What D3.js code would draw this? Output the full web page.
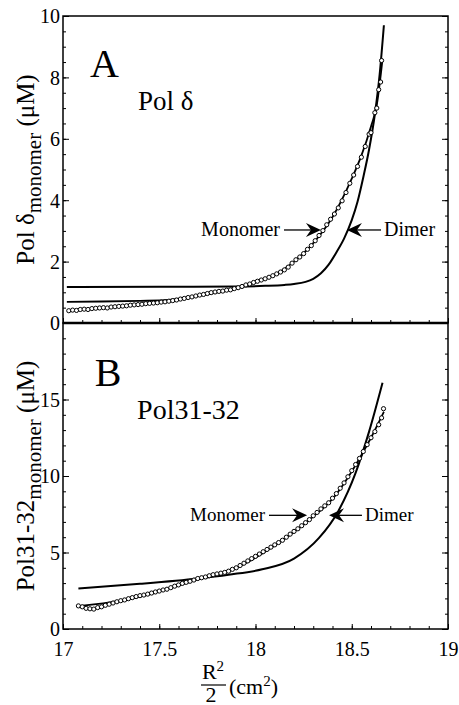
<!DOCTYPE html>
<html>
<head>
<meta charset="utf-8">
<script src="https://cdn.jsdelivr.net/npm/d3@7"></script>
<style>
  body { margin: 0; background: #fff; }
  .tick line { stroke: #000; stroke-width: 1; }
</style>
</head>
<body>
<svg id="chart" width="459" height="705"></svg>
<script>
// panel A : Pol delta, [r^2/2, conc]
var polDeltaData = [
  [17.03,0.40],[17.05,0.42],[17.07,0.41],[17.09,0.44],[17.11,0.45],[17.13,0.44],[17.15,0.47],
  [17.17,0.48],[17.19,0.49],[17.21,0.50],[17.23,0.49],[17.25,0.52],[17.27,0.53],[17.29,0.54],
  [17.31,0.55],[17.33,0.56],[17.35,0.58],[17.37,0.59],[17.39,0.60],[17.41,0.61],[17.43,0.63],
  [17.45,0.64],[17.47,0.65],[17.49,0.66],[17.51,0.68],[17.53,0.69],[17.55,0.71],[17.57,0.73],
  [17.59,0.75],[17.61,0.78],[17.63,0.80],[17.65,0.83],[17.67,0.85],[17.69,0.88],[17.71,0.91],
  [17.73,0.93],[17.75,0.96],[17.77,0.99],[17.79,1.01],[17.81,1.03],[17.83,1.04],[17.85,1.07],
  [17.87,1.08],[17.89,1.12],[17.91,1.15],[17.93,1.19],[17.95,1.24],[17.97,1.27],[17.99,1.32],
  [18.01,1.36],[18.03,1.40],[18.05,1.44],[18.07,1.49],[18.09,1.54],[18.11,1.60],[18.13,1.66],
  [18.15,1.73],[18.17,1.82],[18.19,1.95],[18.21,2.06],[18.23,2.15],[18.25,2.26],[18.27,2.40],
  [18.29,2.52],[18.31,2.68],[18.33,2.85],[18.35,3.01],[18.37,3.20],[18.39,3.38],[18.41,3.55],
  [18.43,3.75],[18.45,3.98],[18.47,4.25],[18.49,4.55],[18.51,4.82],[18.53,5.10],[18.55,5.40],
  [18.57,5.75],[18.59,6.15],[18.60,6.20],[18.62,6.85],[18.63,7.00],[18.64,7.60],[18.65,7.85],
  [18.655,8.55]
];
var polDeltaMonomer = [
  [17.02,0.69],[17.2,0.70],[17.4,0.72],[17.55,0.75],[17.7,0.88],[17.85,1.06],[18.0,1.34],
  [18.1,1.57],[18.2,2.0],[18.3,2.6],[18.4,3.45],[18.5,4.7],[18.55,5.45],[18.6,6.4],
  [18.63,7.1],[18.66,8.6]
];
var polDeltaDimer = [
  [17.02,1.17],[17.5,1.18],[17.9,1.19],[18.05,1.21],[18.15,1.24],[18.2,1.27],[18.26,1.34],
  [18.3,1.44],[18.34,1.62],[18.38,1.90],[18.42,2.3],[18.46,2.75],[18.5,3.35],[18.53,3.95],
  [18.56,4.75],[18.59,5.65],[18.62,6.8],[18.645,8.1],[18.667,9.7]
];

// panel B : Pol31-32
var pol3132Data = [
  [17.08,1.51],[17.10,1.45],[17.12,1.35],[17.14,1.32],[17.16,1.30],[17.18,1.40],[17.20,1.45],
  [17.22,1.55],[17.24,1.62],[17.26,1.70],[17.28,1.78],[17.30,1.85],[17.32,1.90],[17.34,1.98],
  [17.36,2.05],[17.38,2.12],[17.40,2.18],[17.42,2.22],[17.44,2.28],[17.46,2.35],[17.48,2.42],
  [17.50,2.48],[17.52,2.55],[17.54,2.60],[17.56,2.70],[17.58,2.80],[17.60,2.88],[17.62,2.98],
  [17.64,3.05],[17.66,3.12],[17.68,3.20],[17.70,3.30],[17.72,3.35],[17.74,3.40],[17.76,3.48],
  [17.78,3.55],[17.80,3.60],[17.82,3.65],[17.84,3.70],[17.86,3.78],[17.88,3.90],[17.90,4.00],
  [17.92,4.15],[17.94,4.30],[17.96,4.45],[17.98,4.60],[18.00,4.75],[18.02,4.90],[18.04,5.05],
  [18.06,5.20],[18.08,5.35],[18.10,5.50],[18.12,5.65],[18.14,5.80],[18.16,6.00],[18.18,6.20],
  [18.20,6.38],[18.22,6.55],[18.24,6.75],[18.26,6.95],[18.28,7.15],[18.30,7.40],[18.32,7.62],
  [18.34,7.85],[18.36,8.05],[18.38,8.25],[18.40,8.55],[18.42,8.85],[18.44,9.20],[18.46,9.55],
  [18.48,9.95],[18.50,10.35],[18.52,10.75],[18.54,11.15],[18.56,11.60],[18.58,12.05],
  [18.60,12.50],[18.62,12.90],[18.64,13.35],[18.655,13.80],[18.665,14.40]
];
var pol3132Monomer = [
  [17.08,1.5],[17.3,1.85],[17.5,2.45],[17.7,3.25],[17.9,4.0],[18.1,5.45],[18.3,7.35],
  [18.4,8.5],[18.5,10.3],[18.6,12.5],[18.667,14.2]
];
var pol3132Dimer = [
  [17.08,2.65],[17.4,2.95],[17.7,3.3],[17.86,3.55],[18.035,3.9],[18.2,4.6],[18.33,5.95],
  [18.43,7.7],[18.52,10.2],[18.59,12.9],[18.66,16.1]
];

var xTicks = [17, 17.5, 18, 18.5, 19];
var yTicksA = [0, 2, 4, 6, 8, 10];
var yTicksB = [0, 5, 10, 15];

var serif = "'Liberation Serif', 'DejaVu Serif', 'Times New Roman', Times, serif";
var svg = d3.select('#chart');
var left = 63, right = 448;

var x = d3.scaleLinear().domain([17, 19]).range([left, right]);
var yA = d3.scaleLinear().domain([0, 10]).range([323, 16]);
var yB = d3.scaleLinear().domain([0, 20]).range([629, 323]);

function txt(sel){
  return sel.attr('font-family', serif).attr('fill', '#000');
}

function drawPanel(opts){
  var y = opts.y;
  var g = svg.append('g');
  var top = y.range()[1], bottom = y.range()[0];

  // frame
  g.append('rect')
    .attr('x', left).attr('y', top)
    .attr('width', right - left).attr('height', bottom - top)
    .attr('fill', 'none').attr('stroke', '#000').attr('stroke-width', 1.5);

  // minor + major y ticks, both sides
  var minor = d3.range(0, y.domain()[1] + 1e-9, opts.minorStep);
  g.append('g').attr('transform', 'translate(' + left + ',0)')
    .call(d3.axisLeft(y).tickValues(minor).tickSize(-3).tickFormat(''))
    .call(function(s){ s.select('.domain').remove(); });
  g.append('g').attr('transform', 'translate(' + right + ',0)')
    .call(d3.axisRight(y).tickValues(minor).tickSize(-3).tickFormat(''))
    .call(function(s){ s.select('.domain').remove(); });
  g.append('g').attr('transform', 'translate(' + right + ',0)')
    .call(d3.axisRight(y).tickValues(opts.yTicks).tickSize(-6).tickFormat(''))
    .call(function(s){ s.select('.domain').remove(); });
  var ya = g.append('g').attr('transform', 'translate(' + left + ',0)')
    .call(d3.axisLeft(y).tickValues(opts.yTicks).tickSize(-6).tickFormat(d3.format('d')));
  ya.select('.domain').remove();
  ya.attr('font-family', serif).attr('font-size', 20);
  txt(ya.selectAll('text')).attr('dy', '0.34em').attr('x', -3);

  // x ticks pointing up from the panel bottom
  g.append('g').attr('transform', 'translate(0,' + bottom + ')')
    .call(d3.axisBottom(x).tickValues(d3.range(17, 19.001, 0.1)).tickSize(-3).tickFormat(''))
    .call(function(s){ s.select('.domain').remove(); });
  var xa = g.append('g').attr('transform', 'translate(0,' + bottom + ')')
    .call(d3.axisBottom(x).tickValues(xTicks).tickSize(-5).tickFormat(opts.showX ? d3.format('') : ''));
  xa.select('.domain').remove();
  xa.attr('font-family', serif).attr('font-size', 20);
  txt(xa.selectAll('text')).attr('y', 27).attr('dy', 0);

  var line = d3.line()
    .x(function(d){ return x(d[0]); })
    .y(function(d){ return y(d[1]); })
    .curve(d3.curveMonotoneX);

  g.append('path').datum(opts.dimer).attr('d', line)
    .attr('fill', 'none').attr('stroke', '#000').attr('stroke-width', 2);
  g.append('path').datum(opts.monomer).attr('d', line)
    .attr('fill', 'none').attr('stroke', '#000').attr('stroke-width', 1.8);

  g.selectAll('circle.pt').data(opts.data).enter().append('circle')
    .attr('class', 'pt')
    .attr('cx', function(d){ return x(d[0]); })
    .attr('cy', function(d){ return y(d[1]); })
    .attr('r', 2.1)
    .attr('fill', '#fff').attr('stroke', '#000').attr('stroke-width', 1);

  // panel letter and protein name
  txt(g.append('text')).attr('x', x(opts.letterAt[0])).attr('y', y(opts.letterAt[1]))
    .attr('font-size', 40).text(opts.letter);
  txt(g.append('text')).attr('x', x(opts.nameAt[0])).attr('y', y(opts.nameAt[1]))
    .attr('font-size', opts.nameSize).text(opts.name);

  // arrows
  var ay = y(opts.arrowY);
  arrow(g, x(opts.monoArrow[0]), x(opts.monoArrow[1]), ay);
  arrow(g, x(opts.dimArrow[0]), x(opts.dimArrow[1]), ay);
  txt(g.append('text')).attr('x', x(opts.monoArrow[0]) - 4).attr('y', ay + 6)
    .attr('text-anchor', 'end').attr('font-size', opts.noteSize).text('Monomer');
  txt(g.append('text')).attr('x', x(opts.dimArrow[0]) + 3).attr('y', ay + 6)
    .attr('font-size', opts.noteSize).text('Dimer');

  // y axis title
  var t = txt(g.append('text'))
    .attr('transform', 'translate(34,' + ((top + bottom) / 2) + ') rotate(-90)')
    .attr('text-anchor', 'middle').attr('font-size', 25);
  t.append('tspan').text(opts.yName);
  t.append('tspan').attr('dy', 7).attr('font-size', 21).text('monomer');
  t.append('tspan').attr('dy', -7).text(' (\u03bcM)');
}

function arrow(g, x0, x1, yy){
  var dir = x1 > x0 ? 1 : -1;
  g.append('line').attr('x1', x0).attr('x2', x1 - dir * 8).attr('y1', yy).attr('y2', yy)
    .attr('stroke', '#000').attr('stroke-width', 1.3);
  g.append('path')
    .attr('d', 'M' + x1 + ',' + yy +
      'L' + (x1 - dir * 15) + ',' + (yy - 7) +
      'L' + (x1 - dir * 10) + ',' + yy +
      'L' + (x1 - dir * 15) + ',' + (yy + 7) + 'Z')
    .attr('fill', '#000');
}

drawPanel({
  y: yA, yTicks: yTicksA, minorStep: 0.5, showX: false,
  data: polDeltaData, monomer: polDeltaMonomer, dimer: polDeltaDimer,
  letter: 'A', letterAt: [17.14, 8.0],
  name: 'Pol \u03b4', nameAt: [17.39, 6.95], nameSize: 27,
  arrowY: 3.03, monoArrow: [18.148, 18.34], dimArrow: [18.652, 18.475], noteSize: 20,
  yName: 'Pol \u03b4'
});

drawPanel({
  y: yB, yTicks: yTicksB, minorStep: 1, showX: true,
  data: pol3132Data, monomer: pol3132Monomer, dimer: pol3132Dimer,
  letter: 'B', letterAt: [17.165, 15.9],
  name: 'Pol31-32', nameAt: [17.385, 13.75], nameSize: 28,
  arrowY: 7.43, monoArrow: [18.07, 18.268], dimArrow: [18.553, 18.382], noteSize: 19,
  yName: 'Pol31-32'
});

// middle divider is drawn heavier
svg.append('line').attr('x1', left).attr('x2', right).attr('y1', yA(0)).attr('y2', yA(0))
  .attr('stroke', '#000').attr('stroke-width', 2.4);

// x axis title : R^2 / 2 (cm^2)
var xt = svg.append('g');
var fx = 213;
var num = txt(xt.append('text')).attr('x', fx).attr('y', 679).attr('text-anchor', 'middle').attr('font-size', 22);
num.append('tspan').text('R');
num.append('tspan').attr('dy', -8).attr('font-size', 15).text('2');
xt.append('line').attr('x1', 201).attr('x2', 226).attr('y1', 685).attr('y2', 685)
  .attr('stroke', '#000').attr('stroke-width', 1.2);
txt(xt.append('text')).attr('x', fx - 2).attr('y', 702).attr('text-anchor', 'middle').attr('font-size', 22).text('2');
var unit = txt(xt.append('text')).attr('x', 229).attr('y', 694).attr('font-size', 22);
unit.append('tspan').text('(cm');
unit.append('tspan').attr('dy', -8).attr('font-size', 15).text('2');
unit.append('tspan').attr('dy', 8).text(')');
</script>
</body>
</html>
